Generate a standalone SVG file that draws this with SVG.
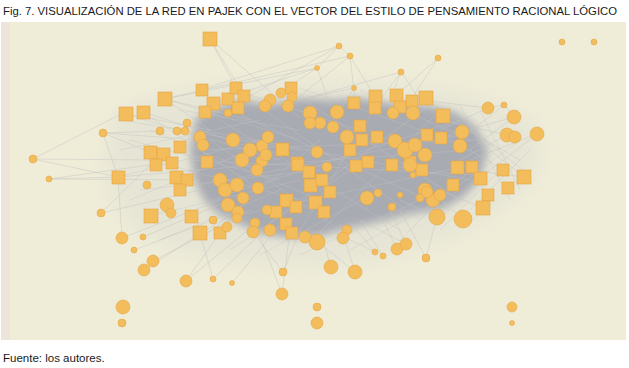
<svg xmlns="http://www.w3.org/2000/svg" width="629" height="368" viewBox="0 0 629 368">
<style>
.t{font-family:"Liberation Sans",Arial,sans-serif;fill:#1a1a1a}
.s{fill:#f4bd5c;stroke:#e3a648;stroke-width:.6}
.c{fill:#f4bd5c;stroke:#e3a648;stroke-width:.6}
.e{stroke:#c4c4c2;stroke-width:.6;fill:none;opacity:.8}
.ed{stroke:#c2c3c4;stroke-width:.5;fill:none;opacity:.75}
</style>
<defs>
<filter id="soft" x="-10%" y="-10%" width="120%" height="120%"><feGaussianBlur stdDeviation="4"/></filter>
<filter id="soft2" x="-10%" y="-10%" width="120%" height="120%"><feGaussianBlur stdDeviation="8"/></filter>
</defs>
<rect width="629" height="368" fill="#ffffff"/>
<text class="t" x="3" y="15" font-size="11.5" textLength="614" lengthAdjust="spacingAndGlyphs">Fig. 7. VISUALIZACIÓN DE LA RED EN PAJEK CON EL VECTOR DEL ESTILO DE PENSAMIENTO RACIONAL LÓGICO</text>
<rect x="1" y="22" width="625" height="318" fill="#efedd8"/>
<rect x="1" y="22" width="9" height="318" fill="#eee5da"/>
<g id="haze">
<path d="M118,112 C160,86 260,78 350,82 C430,84 500,96 535,124 C548,150 538,190 502,206 C470,236 400,262 330,266 C250,270 170,258 132,228 C100,200 100,140 118,112 Z" fill="#d8d8d0" opacity=".35" filter="url(#soft2)"/>
<path d="M196,118 L215,108 L240,100 L270,104 L300,98 L330,100 L360,98 L395,104 L430,106 L455,112 L475,126 L488,150 L480,180 L462,198 L440,210 L410,214 L380,222 L350,228 L320,236 L290,238 L262,234 L240,224 L218,214 L204,200 L194,180 L190,150 Z" fill="#a9abb3" filter="url(#soft)"/>
</g>
<g id="edges">
<path class="e" d="M210,39 L250,105 M210,39 L300,118 M210,39 L236,88 M339,46 L317,68 M339,46 L250,96 M339,46 L350,56 M350,56 L300,96 M350,56 L355,100 M350,56 L380,105 M317,68 L220,100 M317,68 L330,105 M317,68 L280,92 M401,72 L380,100 M401,72 L392,95 M401,72 L420,100 M438,58 L412,98 M438,58 L400,92 M354,88 L340,110 M354,88 L300,100 M339,46 L200,90 M350,56 L160,100 M317,68 L165,99 M401,72 L300,100 M103,133 L200,140 M103,133 L118,177 M103,133 L160,131 M103,133 L150,152 M33,159 L150,160 M33,159 L125,112 M33,159 L118,177 M49,179 L200,180 M49,179 L118,177 M49,179 L150,165 M118,177 L200,170 M126,114 L210,130 M143,112 L230,140 M165,99 L250,120 M165,99 L210,130 M101,213 L200,190 M101,213 L150,165 M122,238 L220,200 M122,238 L118,177 M143,237 L230,200 M134,250 L240,210 M153,261 L250,210 M144,270 L230,215 M186,281 L260,220 M186,281 L220,233 M213,279 L270,225 M213,279 L200,233 M232,283 L280,225 M282,294 L290,230 M282,294 L255,223 M283,272 L300,230 M283,272 L253,232 M331,267 L320,230 M355,272 L340,225 M355,272 L318,242 M397,249 L380,215 M406,244 L390,210 M406,244 L360,220 M426,258 L400,210 M426,258 L437,217 M383,256 L360,220 M375,252 L350,222 M375,252 L330,230 M488,108 L440,130 M488,108 L504,105 M504,105 L460,140 M504,105 L514,117 M514,117 L470,150 M537,134 L470,160 M537,134 L480,178 M507,135 L460,160 M507,135 L440,120 M524,177 L470,170 M524,177 L490,150 M503,170 L470,150 M483,208 L440,190 M463,219 L430,190 M437,217 L400,200 M488,108 L420,100 M514,117 L440,138"/>
<path class="ed" d="M200,130 L470,180 M200,150 L480,140 M210,200 L460,120 M230,110 L450,210 M250,100 L420,220 M300,98 L460,200 M195,170 L470,150 M220,120 L400,230 M260,230 L430,105 M320,232 L440,110 M200,185 L460,135 M240,215 L470,165 M210,140 L340,230 M380,100 L300,230 M190,160 L480,175 M150,160 L300,200 M140,190 L320,170 M130,140 L280,180 M120,120 L300,150 M450,120 L520,160 M440,200 L520,140 M470,130 L530,175 M118,177 L260,140 M125,114 L280,160 M143,112 L260,190 M150,216 L300,180 M165,99 L300,140 M130,200 L250,150 M160,240 L280,190 M150,130 L320,200 M200,240 L320,140 M230,250 L350,170 M260,255 L380,190 M300,255 L420,200 M350,250 L460,190 M400,240 L480,160 M440,230 L500,170 M470,210 L530,150 M480,110 L520,190 M460,105 L510,200 M420,95 L500,150 M360,90 L470,140 M300,88 L420,130 M240,92 L360,130 M180,110 L300,130 M120,150 L260,120"/>
</g>
<g id="nodes">
<g id="s1"><rect class="s" x="203" y="32" width="14" height="14"/></g>
<g id="s2"><rect class="s" x="158" y="92" width="14" height="14"/></g>
<g id="s3"><rect class="s" x="119" y="107" width="14" height="14"/></g>
<g id="s4"><rect class="s" x="137" y="106" width="13" height="13"/></g>
<g id="s5"><rect class="s" x="112" y="171" width="13" height="13"/></g>
<g id="s6"><rect class="s" x="144" y="209" width="14" height="14"/></g>
<g id="s7"><rect class="s" x="185" y="210" width="13" height="13"/></g>
<g id="s8"><rect class="s" x="193" y="226" width="14" height="14"/></g>
<g id="s9"><rect class="s" x="214" y="227" width="12" height="12"/></g>
<g id="s10"><rect class="s" x="196" y="84" width="12" height="12"/></g>
<g id="s11"><rect class="s" x="207" y="97" width="13" height="13"/></g>
<g id="s12"><rect class="s" x="222" y="93" width="12" height="12"/></g>
<g id="s13"><rect class="s" x="230" y="82" width="12" height="12"/></g>
<g id="s14"><rect class="s" x="238" y="90" width="12" height="12"/></g>
<g id="s15"><rect class="s" x="199" y="106" width="12" height="12"/></g>
<g id="s16"><rect class="s" x="232" y="102" width="12" height="12"/></g>
<g id="s17"><rect class="s" x="144" y="146" width="13" height="13"/></g>
<g id="s18"><rect class="s" x="157" y="148" width="13" height="13"/></g>
<g id="s19"><rect class="s" x="150" y="159" width="12" height="12"/></g>
<g id="s20"><rect class="s" x="166" y="157" width="12" height="12"/></g>
<g id="s21"><rect class="s" x="174" y="141" width="12" height="12"/></g>
<g id="s22"><rect class="s" x="170" y="171" width="13" height="13"/></g>
<g id="s23"><rect class="s" x="181" y="174" width="12" height="12"/></g>
<g id="s24"><rect class="s" x="174" y="184" width="12" height="12"/></g>
<g id="s25"><rect class="s" x="201" y="156" width="12" height="12"/></g>
<g id="s26"><rect class="s" x="369" y="90" width="13" height="13"/></g>
<g id="s27"><rect class="s" x="369" y="102" width="12" height="12"/></g>
<g id="s28"><rect class="s" x="390" y="89" width="13" height="13"/></g>
<g id="s29"><rect class="s" x="394" y="101" width="12" height="12"/></g>
<g id="s30"><rect class="s" x="406" y="95" width="12" height="12"/></g>
<g id="s31"><rect class="s" x="419" y="91" width="14" height="14"/></g>
<g id="s32"><rect class="s" x="348" y="97" width="12" height="12"/></g>
<g id="s33"><rect class="s" x="436" y="109" width="14" height="14"/></g>
<g id="s34"><rect class="s" x="354" y="120" width="12" height="12"/></g>
<g id="s35"><rect class="s" x="356" y="134" width="12" height="12"/></g>
<g id="s36"><rect class="s" x="371" y="131" width="12" height="12"/></g>
<g id="s37"><rect class="s" x="344" y="144" width="12" height="12"/></g>
<g id="s38"><rect class="s" x="362" y="156" width="12" height="12"/></g>
<g id="s39"><rect class="s" x="276" y="143" width="13" height="13"/></g>
<g id="s40"><rect class="s" x="291" y="157" width="12" height="12"/></g>
<g id="s41"><rect class="s" x="421" y="129" width="12" height="12"/></g>
<g id="s42"><rect class="s" x="435" y="132" width="12" height="12"/></g>
<g id="s43"><rect class="s" x="451" y="161" width="13" height="13"/></g>
<g id="s44"><rect class="s" x="466" y="161" width="12" height="12"/></g>
<g id="s45"><rect class="s" x="474" y="172" width="13" height="13"/></g>
<g id="s46"><rect class="s" x="497" y="164" width="12" height="12"/></g>
<g id="s47"><rect class="s" x="517" y="170" width="14" height="14"/></g>
<g id="s48"><rect class="s" x="502" y="182" width="12" height="12"/></g>
<g id="s49"><rect class="s" x="447" y="179" width="12" height="12"/></g>
<g id="s50"><rect class="s" x="482" y="189" width="12" height="12"/></g>
<g id="s51"><rect class="s" x="476" y="201" width="14" height="14"/></g>
<g id="s52"><rect class="s" x="292" y="159" width="12" height="12"/></g>
<g id="s53"><rect class="s" x="304" y="179" width="13" height="13"/></g>
<g id="s54"><rect class="s" x="316" y="174" width="12" height="12"/></g>
<g id="s55"><rect class="s" x="324" y="186" width="12" height="12"/></g>
<g id="s56"><rect class="s" x="280" y="194" width="13" height="13"/></g>
<g id="s57"><rect class="s" x="290" y="201" width="12" height="12"/></g>
<g id="s58"><rect class="s" x="270" y="206" width="12" height="12"/></g>
<g id="s59"><rect class="s" x="309" y="196" width="13" height="13"/></g>
<g id="s60"><rect class="s" x="318" y="206" width="12" height="12"/></g>
<g id="s61"><rect class="s" x="280" y="218" width="12" height="12"/></g>
<g id="s62"><rect class="s" x="286" y="227" width="12" height="12"/></g>
<g id="s63"><rect class="s" x="350" y="160" width="12" height="12"/></g>
<g id="s64"><rect class="s" x="386" y="159" width="12" height="12"/></g>
<g id="s65"><rect class="s" x="404" y="156" width="12" height="12"/></g>
<g id="s66"><rect class="s" x="416" y="164" width="12" height="12"/></g>
<g id="s67"><rect class="s" x="303" y="166" width="12" height="12"/></g>
<g id="s68"><rect class="s" x="285" y="82" width="12" height="12"/></g>
<g id="c1"><circle class="c" cx="103" cy="133" r="4"/></g>
<g id="c2"><circle class="c" cx="33" cy="159" r="4"/></g>
<g id="c3"><circle class="c" cx="49" cy="179" r="3"/></g>
<g id="c4"><circle class="c" cx="562" cy="42" r="3"/></g>
<g id="c5"><circle class="c" cx="594" cy="42" r="3"/></g>
<g id="c6"><circle class="c" cx="339" cy="46" r="3"/></g>
<g id="c7"><circle class="c" cx="350" cy="56" r="3"/></g>
<g id="c8"><circle class="c" cx="438" cy="58" r="3"/></g>
<g id="c9"><circle class="c" cx="401" cy="72" r="3"/></g>
<g id="c10"><circle class="c" cx="317" cy="68" r="2.5"/></g>
<g id="c11"><circle class="c" cx="354" cy="88" r="2.5"/></g>
<g id="c12"><circle class="c" cx="488" cy="108" r="6"/></g>
<g id="c13"><circle class="c" cx="504" cy="105" r="3"/></g>
<g id="c14"><circle class="c" cx="514" cy="117" r="7"/></g>
<g id="c15"><circle class="c" cx="537" cy="134" r="7"/></g>
<g id="c16"><circle class="c" cx="507" cy="135" r="7"/></g>
<g id="c17"><circle class="c" cx="515" cy="137" r="6"/></g>
<g id="c18"><circle class="c" cx="462" cy="132" r="7"/></g>
<g id="c19"><circle class="c" cx="460" cy="146" r="7"/></g>
<g id="c20"><circle class="c" cx="123" cy="307" r="7"/></g>
<g id="c21"><circle class="c" cx="122" cy="323" r="4"/></g>
<g id="c22"><circle class="c" cx="101" cy="213" r="4"/></g>
<g id="c23"><circle class="c" cx="122" cy="238" r="6"/></g>
<g id="c24"><circle class="c" cx="143" cy="237" r="3"/></g>
<g id="c25"><circle class="c" cx="134" cy="250" r="3"/></g>
<g id="c26"><circle class="c" cx="153" cy="261" r="6"/></g>
<g id="c27"><circle class="c" cx="144" cy="270" r="6"/></g>
<g id="c28"><circle class="c" cx="186" cy="281" r="6"/></g>
<g id="c29"><circle class="c" cx="213" cy="279" r="3"/></g>
<g id="c30"><circle class="c" cx="232" cy="283" r="2.5"/></g>
<g id="c31"><circle class="c" cx="282" cy="294" r="6"/></g>
<g id="c32"><circle class="c" cx="283" cy="272" r="4"/></g>
<g id="c33"><circle class="c" cx="255" cy="223" r="5"/></g>
<g id="c34"><circle class="c" cx="317" cy="307" r="4"/></g>
<g id="c35"><circle class="c" cx="317" cy="323" r="6"/></g>
<g id="c36"><circle class="c" cx="512" cy="307" r="5"/></g>
<g id="c37"><circle class="c" cx="512" cy="323" r="2.5"/></g>
<g id="c38"><circle class="c" cx="331" cy="267" r="7"/></g>
<g id="c39"><circle class="c" cx="355" cy="272" r="7"/></g>
<g id="c40"><circle class="c" cx="397" cy="249" r="6"/></g>
<g id="c41"><circle class="c" cx="406" cy="244" r="6"/></g>
<g id="c42"><circle class="c" cx="426" cy="258" r="4"/></g>
<g id="c43"><circle class="c" cx="383" cy="256" r="3"/></g>
<g id="c44"><circle class="c" cx="375" cy="252" r="3"/></g>
<g id="c45"><circle class="c" cx="463" cy="219" r="9"/></g>
<g id="c46"><circle class="c" cx="437" cy="217" r="8"/></g>
<g id="c47"><circle class="c" cx="317" cy="242" r="8"/></g>
<g id="c48"><circle class="c" cx="305" cy="237" r="6"/></g>
<g id="c49"><circle class="c" cx="367" cy="198" r="7"/></g>
<g id="c50"><circle class="c" cx="160" cy="131" r="4"/></g>
<g id="c51"><circle class="c" cx="187" cy="123" r="4"/></g>
<g id="c52"><circle class="c" cx="177" cy="131" r="4"/></g>
<g id="c53"><circle class="c" cx="185" cy="131" r="4"/></g>
<g id="c54"><circle class="c" cx="228" cy="113" r="4"/></g>
<g id="c55"><circle class="c" cx="200" cy="137" r="6"/></g>
<g id="c56"><circle class="c" cx="203" cy="145" r="6"/></g>
<g id="c57"><circle class="c" cx="233" cy="140" r="7"/></g>
<g id="c58"><circle class="c" cx="250" cy="150" r="7"/></g>
<g id="c59"><circle class="c" cx="262" cy="146" r="6"/></g>
<g id="c60"><circle class="c" cx="242" cy="160" r="7"/></g>
<g id="c61"><circle class="c" cx="262" cy="161" r="6"/></g>
<g id="c62"><circle class="c" cx="257" cy="170" r="6"/></g>
<g id="c63"><circle class="c" cx="270" cy="100" r="6"/></g>
<g id="c64"><circle class="c" cx="281" cy="93" r="5"/></g>
<g id="c65"><circle class="c" cx="292" cy="97" r="5"/></g>
<g id="c66"><circle class="c" cx="288" cy="106" r="6"/></g>
<g id="c67"><circle class="c" cx="265" cy="106" r="6"/></g>
<g id="c68"><circle class="c" cx="337" cy="112" r="7"/></g>
<g id="c69"><circle class="c" cx="310" cy="113" r="7"/></g>
<g id="c70"><circle class="c" cx="320" cy="123" r="6"/></g>
<g id="c71"><circle class="c" cx="333" cy="127" r="6"/></g>
<g id="c72"><circle class="c" cx="310" cy="123" r="6"/></g>
<g id="c73"><circle class="c" cx="393" cy="113" r="6"/></g>
<g id="c74"><circle class="c" cx="413" cy="113" r="7"/></g>
<g id="c75"><circle class="c" cx="317" cy="152" r="6"/></g>
<g id="c76"><circle class="c" cx="395" cy="141" r="7"/></g>
<g id="c77"><circle class="c" cx="405" cy="150" r="8"/></g>
<g id="c78"><circle class="c" cx="415" cy="145" r="7"/></g>
<g id="c79"><circle class="c" cx="425" cy="155" r="7"/></g>
<g id="c80"><circle class="c" cx="410" cy="165" r="7"/></g>
<g id="c81"><circle class="c" cx="268" cy="137" r="6"/></g>
<g id="c82"><circle class="c" cx="266" cy="155" r="6"/></g>
<g id="c83"><circle class="c" cx="147" cy="185" r="4"/></g>
<g id="c84"><circle class="c" cx="220" cy="180" r="7"/></g>
<g id="c85"><circle class="c" cx="225" cy="190" r="7"/></g>
<g id="c86"><circle class="c" cx="237" cy="185" r="7"/></g>
<g id="c87"><circle class="c" cx="243" cy="198" r="6"/></g>
<g id="c88"><circle class="c" cx="228" cy="205" r="7"/></g>
<g id="c89"><circle class="c" cx="238" cy="212" r="6"/></g>
<g id="c90"><circle class="c" cx="258" cy="188" r="6"/></g>
<g id="c91"><circle class="c" cx="267" cy="210" r="5"/></g>
<g id="c92"><circle class="c" cx="167" cy="205" r="7"/></g>
<g id="c93"><circle class="c" cx="171" cy="213" r="5"/></g>
<g id="c94"><circle class="c" cx="213" cy="220" r="4"/></g>
<g id="c95"><circle class="c" cx="227" cy="227" r="5"/></g>
<g id="c96"><circle class="c" cx="237" cy="218" r="5"/></g>
<g id="c97"><circle class="c" cx="253" cy="232" r="6"/></g>
<g id="c98"><circle class="c" cx="327" cy="167" r="5"/></g>
<g id="c99"><circle class="c" cx="413" cy="175" r="3"/></g>
<g id="c100"><circle class="c" cx="378" cy="193" r="4"/></g>
<g id="c101"><circle class="c" cx="400" cy="195" r="3"/></g>
<g id="c102"><circle class="c" cx="347" cy="230" r="5"/></g>
<g id="c103"><circle class="c" cx="343" cy="238" r="6"/></g>
<g id="c104"><circle class="c" cx="270" cy="230" r="6"/></g>
<g id="c105"><circle class="c" cx="425" cy="190" r="7"/></g>
<g id="c106"><circle class="c" cx="433" cy="200" r="7"/></g>
<g id="c107"><circle class="c" cx="420" cy="198" r="4"/></g>
<g id="c108"><circle class="c" cx="392" cy="207" r="4"/></g>
<g id="c109"><circle class="c" cx="427" cy="192" r="6"/></g>
<g id="c110"><circle class="c" cx="440" cy="195" r="6"/></g>
<g id="c111"><circle class="c" cx="347" cy="137" r="7"/></g>
</g>
<text class="t" x="3" y="362" font-size="11.5">Fuente: los autores.</text>
</svg>
